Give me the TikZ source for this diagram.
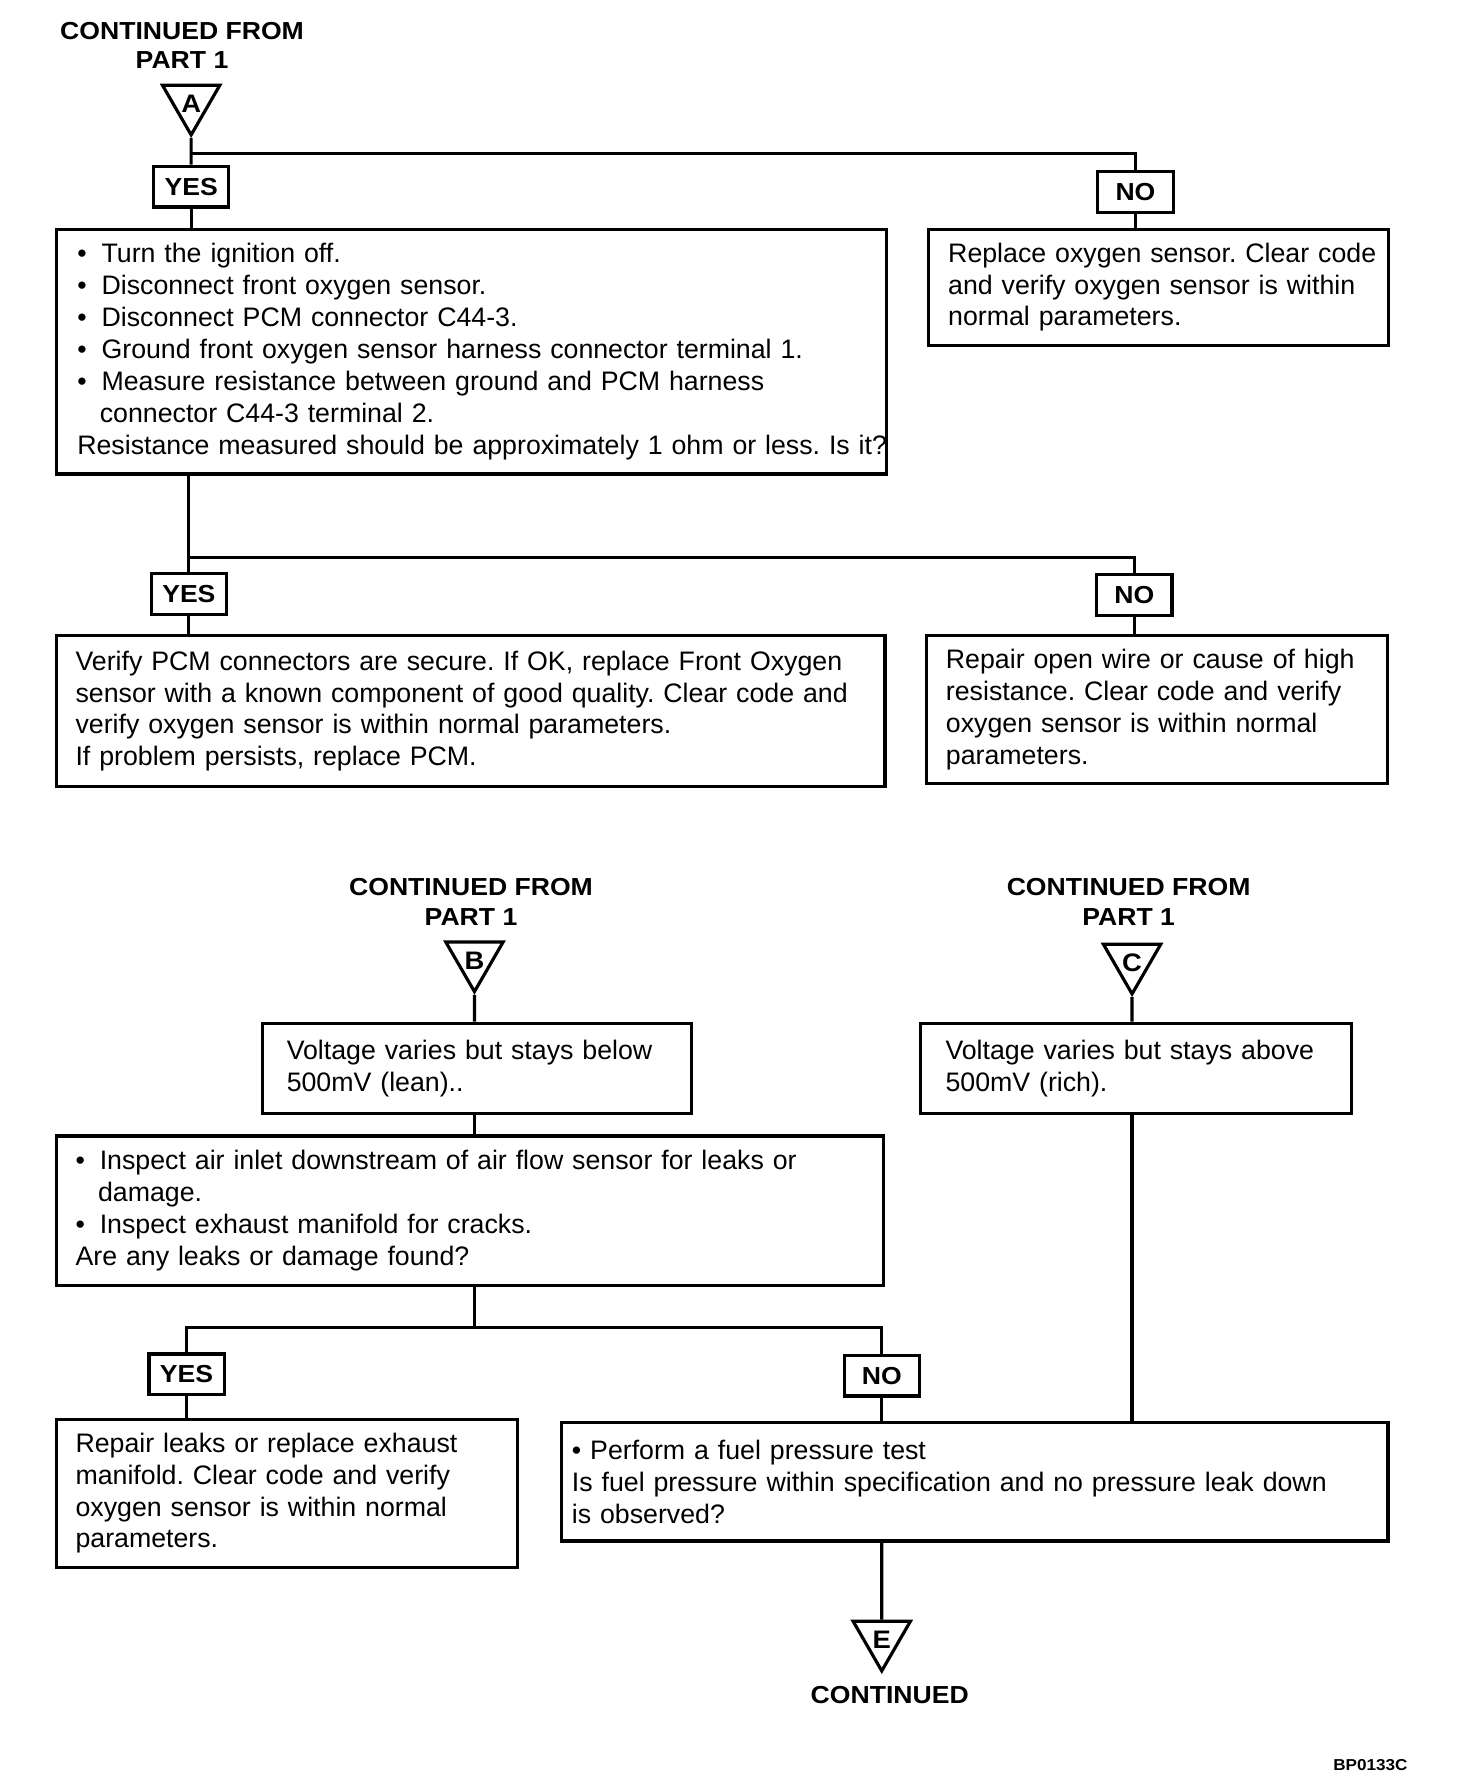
\documentclass[tikz,border=0pt]{standalone}
\usepackage{fontspec}
\setmainfont{Liberation Sans}
\newfontfamily\bodyfont{Liberation Sans}
\newfontfamily\lblfont{Liberation Sans}[FakeStretch=1.08]
\usetikzlibrary{shapes.geometric}
\frenchspacing
\newcommand{\bul}{\makebox[6.9pt][l]{•}}
\newcommand{\cont}{\hspace*{6.4pt}}
\newcommand{\trilbl}[1]{\raisebox{-0.5pt}[5pt][0pt]{#1}}

\begin{document}
\begin{tikzpicture}[x=0.011375cm,y=-0.011375cm,
  stepbox/.style 2 args={draw,line width=0.9pt,anchor=north west,align=left,
                  inner xsep=2pt,inner ysep=0pt,
                  text width=#1*0.32365pt-4pt,minimum height=#2*0.32365pt,
                  execute at begin node={\leftskip=3.5pt},
                  font=\bodyfont\fontsize{7.6}{9.06}\selectfont},
  ansbox/.style={draw,line width=0.9pt,minimum width=21.4pt,minimum height=11.6pt,
                 inner sep=0pt,font=\lblfont\bfseries\fontsize{7}{8.4}\selectfont},
  contri/.style={draw,line width=0.9pt,regular polygon,regular polygon sides=3,
                 shape border rotate=180,minimum size=18.8pt,inner sep=0pt,
                 font=\lblfont\bfseries\fontsize{7.2}{8.4}\selectfont},
  headtxt/.style={align=center,font=\lblfont\bfseries\fontsize{7}{8.4}\selectfont},
  flow/.style={line width=0.9pt}]

  \useasboundingbox (0,0) rectangle (1280,1568);

  % ===== part A =====
  \node[headtxt] (hdA) at (160,40) {CONTINUED FROM\\PART 1};
  \node[contri] (triA) at (168,89.5) {\trilbl{A}};
  \node[ansbox] (yes1) at (168,164) {YES};
  \node[ansbox] (no1) at (998,169) {NO};
  \node[stepbox={729}{215},execute at begin node={\leftskip=4pt}] (b1) at (48,200)
    {\bul Turn the ignition off.\\
     \bul Disconnect front oxygen sensor.\\
     \bul Disconnect PCM connector C44-3.\\
     \bul Ground front oxygen sensor harness connector terminal 1.\\
     \bul Measure resistance between ground and PCM harness\\
     \cont connector C44-3 terminal 2.\\
     \mbox{Resistance measured should be approximately 1 ohm or less. Is it?}};
  \node[stepbox={404}{102}] (b2) at (815,200)
    {Replace oxygen sensor. Clear code\\
     and verify oxygen sensor is within\\
     normal parameters.};
  \node[ansbox] (yes2) at (166,522) {YES};
  \node[ansbox] (no2) at (997,523) {NO};
  \node[stepbox={728}{133}] (b3) at (48,557)
    {Verify PCM connectors are secure. If OK, replace Front Oxygen\\
     sensor with a known component of good quality. Clear code and\\
     verify oxygen sensor is within normal parameters.\\
     If problem persists, replace PCM.};
  \node[stepbox={405}{130}] (b4) at (813,557)
    {Repair open wire or cause of high\\
     resistance. Clear code and verify\\
     oxygen sensor is within normal\\
     parameters.};

  \coordinate (splitA) at (168,135);
  \coordinate (splitB) at (166,490);
  \draw[flow] (triA.south) -- (yes1.north);
  \draw[flow] (splitA) -| (no1.north);
  \draw[flow] (yes1.south) -- (yes1.south |- b1.north);
  \draw[flow] (no1.south) -- (no1.south |- b2.north);
  \draw[flow] (yes2 |- b1.south) -- (yes2.north);
  \draw[flow] (splitB) -| (no2.north);
  \draw[flow] (yes2.south) -- (yes2.south |- b3.north);
  \draw[flow] (no2.south) -- (no2.south |- b4.north);

  % ===== parts B and C =====
  \node[headtxt] (hdB) at (414,792.5) {CONTINUED FROM\\PART 1};
  \node[contri] (triB) at (417,842.5) {\trilbl{B}};
  \node[headtxt] (hdC) at (992,792.5) {CONTINUED FROM\\PART 1};
  \node[contri] (triC) at (995,844.5) {\trilbl{C}};
  \node[stepbox={377}{79},execute at begin node={\leftskip=5pt}] (b5) at (229,898)
    {Voltage varies but stays below\\
     500mV (lean)..};
  \node[stepbox={378}{79},execute at begin node={\leftskip=5pt}] (b6) at (808,898)
    {Voltage varies but stays above\\
     500mV (rich).};
  \node[stepbox={727}{131}] (b7) at (48,997)
    {\bul Inspect air inlet downstream of air flow sensor for leaks or\\
     \cont damage.\\
     \bul Inspect exhaust manifold for cracks.\\
     Are any leaks or damage found?};
  \node[ansbox] (yes3) at (164,1208) {YES};
  \node[ansbox] (no3) at (775,1209) {NO};
  \node[stepbox={405}{130}] (b9) at (48,1246)
    {Repair leaks or replace exhaust\\
     manifold. Clear code and verify\\
     oxygen sensor is within normal\\
     parameters.};
  \node[stepbox={726}{104},execute at begin node={\leftskip=1pt}] (b8) at (492,1249)
    {• Perform a fuel pressure test\\
     Is fuel pressure within specification and no pressure leak down\\
     is observed?};
  \node[contri] (triE) at (775,1439.5) {\trilbl{E}};
  \node[headtxt] (txtE) at (782,1490) {CONTINUED};

  \coordinate (splitC) at (417,1167);
  \draw[flow] (triB.south) -- (triB |- b5.north);
  \draw[flow] (triC.south) -- (triC |- b6.north);
  \draw[flow] (triB |- b5.south) -- (triB |- b7.north);
  \draw[flow] (triC |- b6.south) -- (triC |- b8.north);
  \draw[flow] (triB |- b7.south) -- (splitC);
  \draw[flow] (yes3.north) |- (splitC) -| (no3.north);
  \draw[flow] (yes3.south) -- (yes3.south |- b9.north);
  \draw[flow] (no3.south) -- (no3.south |- b8.north);
  \draw[flow] (triE |- b8.south) -- (triE.north);

  \node[anchor=east,font=\lblfont\bfseries\fontsize{4.5}{5}\selectfont] (code) at (1248,1551) {BP0133C};

\end{tikzpicture}
\end{document}
